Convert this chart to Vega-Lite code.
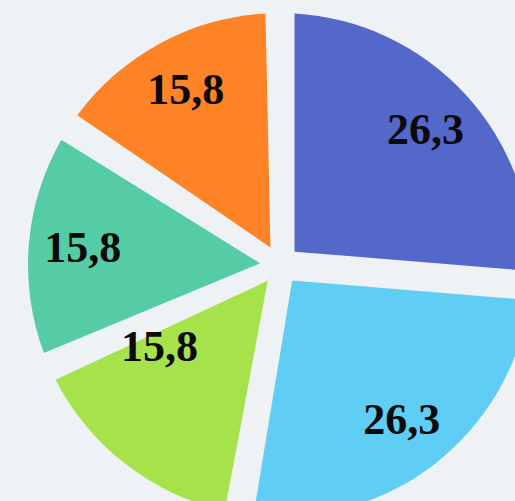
{
  "$schema": "https://vega.github.io/schema/vega-lite/v6.json",
  "width": 560,
  "height": 530,
  "padding": 0,
  "autosize": {"type": "none"},
  "background": "#eef2f5",
  "config": {
    "view": {"stroke": null},
    "locale": {
      "number": {"decimal": ",", "thousands": ".", "grouping": [3], "currency": ["", " €"]}
    }
  },
  "data": {
    "values": [
      {"slice": "1", "value": 26.3},
      {"slice": "2", "value": 26.3},
      {"slice": "3", "value": 15.8},
      {"slice": "4", "value": 15.8},
      {"slice": "5", "value": 15.8}
    ]
  },
  "encoding": {
    "theta": {"field": "value", "type": "quantitative", "stack": true},
    "order": {"field": "slice", "type": "ordinal"}
  },
  "layer": [
    {
      "mark": {"type": "arc", "outerRadius": 252, "innerRadius": 20, "padAngle": 0.115, "stroke": null},
      "encoding": {
        "color": {
          "field": "slice",
          "type": "nominal",
          "legend": null,
          "scale": {
            "domain": ["1", "2", "3", "4", "5"],
            "range": ["#5468c9", "#5fcdf4", "#a6e34a", "#55cba6", "#fe8226"]
          }
        }
      }
    },
    {
      "mark": {"type": "text", "radius": 198, "font": "Liberation Serif", "fontWeight": "bold", "fontSize": 44, "color": "#0a0a0a", "align": "center", "baseline": "middle"},
      "encoding": {
        "detail": {"field": "slice", "type": "nominal"},
        "text": {"field": "value", "type": "quantitative", "format": ".1f"},
        "opacity": {"condition": {"test": "datum.slice === '3'", "value": 0}, "value": 1}
      }
    },
    {
      "mark": {"type": "text", "radius": 146, "thetaOffset": 0.31, "font": "Liberation Serif", "fontWeight": "bold", "fontSize": 44, "color": "#0a0a0a", "align": "center", "baseline": "middle"},
      "encoding": {
        "detail": {"field": "slice", "type": "nominal"},
        "text": {"field": "value", "type": "quantitative", "format": ".1f"},
        "opacity": {"condition": {"test": "datum.slice === '3'", "value": 1}, "value": 0}
      }
    }
  ]
}
